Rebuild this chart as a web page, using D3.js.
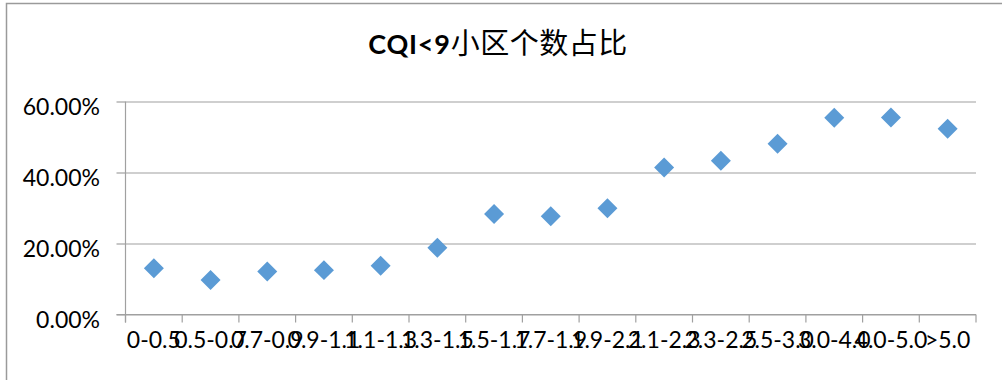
<!DOCTYPE html>
<html>
<head>
<meta charset="utf-8">
<script src="https://cdn.jsdelivr.net/npm/d3@7"></script>
<style>
  html, body { margin: 0; padding: 0; background: #fff; }
  svg { display: block; }
</style>
</head>
<body>
<svg id="chart" width="1002" height="380"></svg>
<script>
// CQI<9 cell share by range bucket
const categories = ["0-0.5", "0.5-0.7", "0.7-0.9", "0.9-1.1", "1.1-1.3", "1.3-1.5", "1.5-1.7",
  "1.7-1.9", "1.9-2.1", "2.1-2.3", "2.3-2.5", "2.5-3.0", "3.0-4.0", "4.0-5.0", ">5.0"];
const shares = [0.130, 0.097, 0.121, 0.125, 0.137, 0.188, 0.283,
  0.277, 0.299, 0.414, 0.433, 0.481, 0.554, 0.555, 0.523];
const yTicks = [0, 0.2, 0.4, 0.6];
const titleLatin = "CQI<9";
const titleCJK = "小区个数占比";

const svg = d3.select("#chart");
const W = 1002, H = 380;
const plot = { left: 125.5, right: 976, top: 101.5, bottom: 314.5 };

const x = d3.scaleBand().domain(categories).range([plot.left, plot.right]).padding(0);
const y = d3.scaleLinear().domain([0, 0.6]).range([plot.bottom, plot.top]);

// chart area frame
svg.append("rect")
  .attr("x", 6.5).attr("y", 3.5)
  .attr("width", W + 20).attr("height", H + 20)
  .attr("fill", "#fff").attr("stroke", "#9a9a9a").attr("stroke-width", 1.5);

// title
const title = svg.append("text")
  .attr("x", 498).attr("y", 54)
  .attr("text-anchor", "middle")
  .attr("fill", "#000");
title.append("tspan")
  .attr("font-family", "Lato, 'Open Sans', sans-serif")
  .attr("font-weight", "bold")
  .attr("font-size", 27)
  .attr("letter-spacing", 0.8)
  .text(titleLatin);
title.append("tspan")
  .attr("font-family", "'Noto Sans CJK SC', sans-serif")
  .attr("font-size", 29)
  .attr("letter-spacing", 0.5)
  .text(titleCJK);

// horizontal gridlines
svg.append("g")
  .attr("transform", `translate(${plot.left},0)`)
  .call(d3.axisLeft(y).tickValues(yTicks).tickSize(-(plot.right - plot.left)).tickFormat(""))
  .call(g => g.select(".domain").remove())
  .call(g => g.selectAll("line").attr("stroke", "#a0a0a0").attr("stroke-width", 1.2));

// y axis with percent labels
const yAxis = svg.append("g")
  .attr("transform", `translate(${plot.left},0)`)
  .call(d3.axisLeft(y).tickValues(yTicks).tickSize(9).tickPadding(0).tickFormat(d3.format(".2%")));
yAxis.select(".domain").attr("d", `M0,${plot.top}V${plot.bottom + 8}`)
  .attr("stroke", "#a0a0a0").attr("stroke-width", 1.2);
yAxis.selectAll("line").attr("stroke", "#a0a0a0").attr("stroke-width", 1.2);
yAxis.selectAll("text")
  .attr("x", 100 - plot.left)
  .attr("dy", null)
  .attr("y", 13)
  .attr("text-anchor", "end")
  .attr("font-family", "Lato, sans-serif")
  .attr("font-size", 23)
  .attr("fill", "#000");

// x axis: baseline, boundary ticks, centered category labels
const xAxis = svg.append("g")
  .attr("transform", `translate(0,${plot.bottom})`)
  .call(d3.axisBottom(x).tickSize(0).tickPadding(0));
xAxis.select(".domain").attr("d", `M${plot.left - 9},0H${plot.right}`)
  .attr("stroke", "#a0a0a0").attr("stroke-width", 1.2);
xAxis.selectAll("text")
  .attr("dy", null)
  .attr("y", 33.5)
  .attr("font-family", "Lato, sans-serif")
  .attr("font-size", 23)
  .attr("fill", "#000");

const bounds = categories.map(c => x(c)).concat([x(categories[categories.length - 1]) + x.bandwidth()]);
xAxis.append("g").selectAll("line")
  .data(bounds)
  .join("line")
  .attr("x1", d => d).attr("x2", d => d)
  .attr("y1", 0).attr("y2", 8)
  .attr("stroke", "#a0a0a0").attr("stroke-width", 1.2);

// diamond markers
const diamond = d3.symbol().type(d3.symbolSquare).size(200);
svg.append("g").selectAll("path")
  .data(shares)
  .join("path")
  .attr("d", diamond)
  .attr("transform", (d, i) => `translate(${x(categories[i]) + x.bandwidth() / 2},${y(d)}) rotate(45)`)
  .attr("fill", "#5b9bd5");
</script>
</body>
</html>
